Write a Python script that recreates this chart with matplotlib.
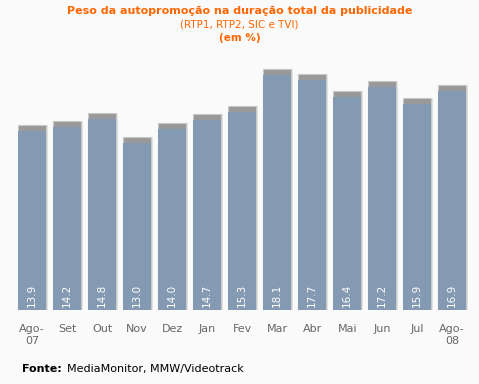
import matplotlib
matplotlib.use("Agg")
import matplotlib.pyplot as plt
import numpy as np

# dados
meses = ["Ago-\n07", "Set", "Out", "Nov", "Dez", "Jan", "Fev", "Mar", "Abr", "Mai", "Jun", "Jul", "Ago-\n08"]
valores = [13.9, 14.2, 14.8, 13.0, 14.0, 14.7, 15.3, 18.1, 17.7, 16.4, 17.2, 15.9, 16.9]

fundo = "#fafafa"
azul = "#8499b2"
laranja = "#ff6600"

fig = plt.figure(figsize=(4.79, 3.84), dpi=100, facecolor=fundo)
ax = fig.add_axes([0.023, 0.193, 0.965, 0.677], facecolor=fundo)

x = np.arange(len(valores))
cap = 0.45

# sombra
ax.bar(x + 0.04, valores, width=0.84, color="#e2e2e2", zorder=1)
# topo cinzento
ax.bar(x, valores, width=0.8, color="#999999", edgecolor="#c8c8c8", linewidth=0.8, zorder=2)
# barra azul
ax.bar(x, np.array(valores) - cap, width=0.8, color=azul, zorder=3)

for xi, v in zip(x, valores):
    ax.text(xi, 0.2, f"{v:.1f}", rotation=90, ha="center", va="bottom",
            color="white", fontsize=7.5, zorder=4)

ax.set_xlim(-0.6, 12.6)
ax.set_ylim(0, 19.5)
ax.set_xticks(x)
ax.set_xticklabels(meses, color="#666666", fontsize=8, linespacing=1.3)
ax.tick_params(axis="x", length=0, pad=10)
ax.set_yticks([])
for s in ax.spines.values():
    s.set_visible(False)

fig.text(0.5, 0.963, "Peso da autopromoção na duração total da publicidade",
         ha="center", color=laranja, fontsize=8, fontweight="bold")
fig.text(0.5, 0.928, "(RTP1, RTP2, SIC e TVI)", ha="center", color=laranja, fontsize=7.5)
fig.text(0.5, 0.893, "(em %)", ha="center", color=laranja, fontsize=7.5, fontweight="bold")

fig.text(0.046, 0.032, "Fonte:", color="black", fontsize=8, fontweight="bold")
fig.text(0.14, 0.032, "MediaMonitor, MMW/Videotrack", color="black", fontsize=8)

fig.savefig("out.png", dpi=100, facecolor=fundo)
